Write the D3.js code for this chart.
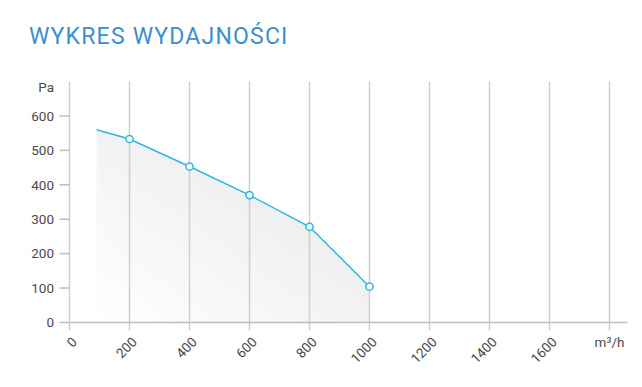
<!DOCTYPE html>
<html>
<head>
<meta charset="utf-8">
<script src="https://cdn.jsdelivr.net/npm/d3@7"></script>
<style>
  body { margin: 0; background: #fff; }
  svg { display: block; font-family: Roboto, sans-serif; }
</style>
</head>
<body>
<div id="chart"></div>
<script>
const flow = [90, 200, 400, 600, 800, 1000]
const pressure = [560, 533, 453, 370, 278, 104]
const xTicks = [0, 200, 400, 600, 800, 1000, 1200, 1400, 1600, 1800]
const yTicks = [0, 100, 200, 300, 400, 500, 600]

const width = 642
const height = 387
const margin = { left: 69.5, right: 14, top: 81.5, bottom: 64.5 }

const svg = d3.select('#chart').append('svg')
  .attr('width', width)
  .attr('height', height)

svg.append('text')
  .attr('x', 29)
  .attr('y', 43.5)
  .attr('fill', '#3a8fd0')
  .attr('font-size', 23)
  .attr('letter-spacing', 1.2)
  .text('WYKRES WYDAJNOŚCI')

const x = d3.scaleLinear().domain([0, 1800]).range([margin.left, 609.5])
const y = d3.scaleLinear().domain([0, 700]).range([height - margin.bottom, margin.top])

const defs = svg.append('defs')
const grad = defs.append('linearGradient')
  .attr('id', 'fillGrad')
  .attr('x1', '100%').attr('y1', '0%')
  .attr('x2', '0%').attr('y2', '100%')
grad.append('stop').attr('offset', '0%').attr('stop-color', '#e6e6e6')
grad.append('stop').attr('offset', '100%').attr('stop-color', '#ffffff')

// area under the curve
const area = d3.area()
  .x((d, i) => x(flow[i]))
  .y0(y(0))
  .y1(d => y(d))
svg.append('path')
  .attr('d', area(pressure))
  .attr('fill', 'url(#fillGrad)')

// vertical grid
svg.append('g')
  .selectAll('line')
  .data(xTicks.slice(1))
  .join('line')
  .attr('x1', d => x(d)).attr('x2', d => x(d))
  .attr('y1', y(700)).attr('y2', y(0) + 8)
  .attr('stroke', '#cfcfcf')
  .attr('stroke-width', 1.5)

// axes
svg.append('line')
  .attr('x1', x(0)).attr('x2', 627.5)
  .attr('y1', y(0)).attr('y2', y(0))
  .attr('stroke', '#bdbdbd').attr('stroke-width', 1.5)
svg.append('line')
  .attr('x1', x(0)).attr('x2', x(0))
  .attr('y1', y(700)).attr('y2', y(0) + 8)
  .attr('stroke', '#cfcfcf').attr('stroke-width', 1.5)

// y ticks
const yg = svg.append('g')
yg.selectAll('line')
  .data(yTicks)
  .join('line')
  .attr('x1', x(0) - 10).attr('x2', x(0))
  .attr('y1', d => y(d)).attr('y2', d => y(d))
  .attr('stroke', '#bdbdbd').attr('stroke-width', 1.5)
yg.selectAll('text')
  .data(yTicks)
  .join('text')
  .attr('x', 54)
  .attr('y', d => y(d))
  .attr('dy', '0.35em')
  .attr('text-anchor', 'end')
  .attr('font-size', 13.5)
  .attr('fill', '#4a4a4a')
  .text(d => d)
svg.append('text')
  .attr('x', 54).attr('y', 87.5)
  .attr('dy', '0.35em')
  .attr('text-anchor', 'end')
  .attr('font-size', 13.5)
  .attr('fill', '#4a4a4a')
  .text('Pa')

// x tick labels
const xg = svg.append('g')
xg.selectAll('text')
  .data(xTicks.slice(0, -1))
  .join('text')
  .attr('transform', d => `translate(${x(d) + 5},${y(0) + 17}) rotate(-45)`)
  .attr('text-anchor', 'end')
  .attr('dy', '0.35em')
  .attr('font-size', 13.5)
  .attr('fill', '#4a4a4a')
  .text(d => d)
svg.append('text')
  .attr('x', x(1800))
  .attr('y', y(0) + 24)
  .attr('text-anchor', 'middle')
  .attr('font-size', 13.5)
  .attr('fill', '#4a4a4a')
  .text('m³/h')

// curve
const line = d3.line()
  .x((d, i) => x(flow[i]))
  .y(d => y(d))
svg.append('path')
  .attr('d', line(pressure))
  .attr('fill', 'none')
  .attr('stroke', '#2bb7e2')
  .attr('stroke-width', 1.5)

svg.append('g')
  .selectAll('circle')
  .data(pressure.slice(1))
  .join('circle')
  .attr('cx', (d, i) => x(flow[i + 1]))
  .attr('cy', d => y(d))
  .attr('r', 3.6)
  .attr('fill', '#fff')
  .attr('stroke', '#2bb7e2')
  .attr('stroke-width', 1.5)
</script>
</body>
</html>
